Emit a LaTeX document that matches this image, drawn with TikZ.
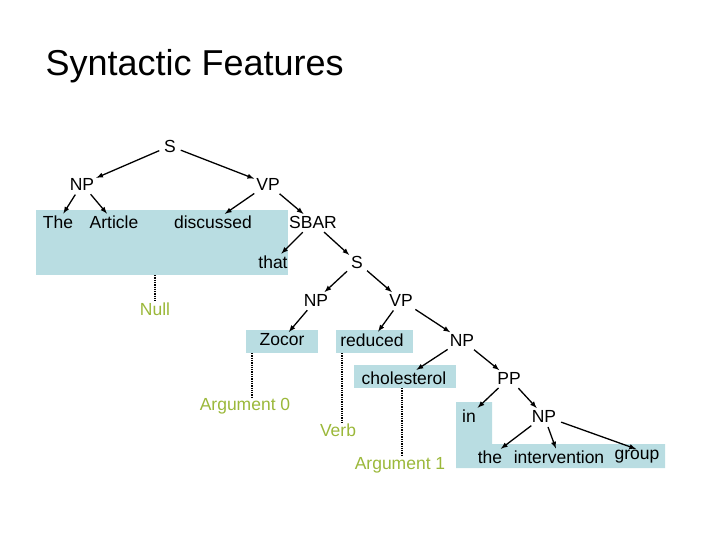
\documentclass[tikz,border=0pt]{standalone}
\usepackage{fontspec}
\setmainfont{Liberation Sans}
\begin{document}
\begin{tikzpicture}[x=1pt,y=-1pt,
  w/.style={inner sep=1pt,font=\fontsize{17.5}{20}\selectfont},
  g/.style={w,text=argc},
  ar/.style={-latex,line width=1.3pt,shorten <=4pt,shorten >=1pt},
  dl/.style={densely dotted,line width=1.3pt},
  sh/.style={fill=boxc,draw=none}]
\definecolor{boxc}{HTML}{B9DDE2}
\definecolor{argc}{HTML}{9BB83A}
\useasboundingbox (0,0) rectangle (720,540);
\fill[boxc] (36,210) rectangle (288,275);
\fill[boxc] (246,330) rectangle (318,353);
\fill[boxc] (336,330) rectangle (413,353);
\fill[boxc] (354,365) rectangle (456,388);
\fill[boxc] (456,402) -- (492,402) -- (492,444) -- (665,444) -- (665,468) -- (456,468) -- cycle;
\node[anchor=west,font=\fontsize{36}{40}\selectfont] (title) at (42,66) {Syntactic Features};
\node[w] (S) at (170,146) {S};
\node[w] (NP) at (82,184) {NP};
\node[w] (VP) at (268,184) {VP};
\node[w] (The) at (58,222) {The};
\node[w] (Art) at (114,222) {Article};
\node[w] (disc) at (213,222) {discussed};
\node[w] (SBAR) at (313,222) {SBAR};
\node[w] (that) at (273,262) {that};
\node[w] (S2) at (357,262) {S};
\node[g] (Null) at (155,309) {Null};
\node[w] (NP2) at (316,300) {NP};
\node[w] (VP2) at (401,300) {VP};
\node[w] (Zocor) at (282,340) {Zocor};
\node[w] (red) at (372,340) {reduced};
\node[w] (NP3) at (462,340) {NP};
\node[w] (chol) at (404,378) {cholesterol};
\node[w] (PP) at (509,378) {PP};
\node[g] (A0) at (245,406) {Argument 0};
\node[w] (in) at (469,416) {in};
\node[w] (NP4) at (544,416) {NP};
\node[g] (Verb) at (338,430) {Verb};
\node[g] (A1) at (400,465) {Argument 1};
\node[w] (the) at (490,457) {the};
\node[w] (int) at (559,457) {intervention};
\node[w] (grp) at (637,457) {group};
\draw[ar] (S) -- (NP);
\draw[ar] (S) -- (VP);
\draw[ar] (NP) -- (The);
\draw[ar] (NP) -- (Art);
\draw[ar] (VP) -- (disc);
\draw[ar] (VP) -- (SBAR);
\draw[ar] (SBAR) -- (that);
\draw[ar] (SBAR) -- (S2);
\draw[ar] (S2) -- (NP2);
\draw[ar] (S2) -- (VP2);
\draw[ar] (NP2) -- (Zocor);
\draw[ar] (VP2) -- (red);
\draw[ar] (VP2) -- (NP3);
\draw[ar] (NP3) -- (chol);
\draw[ar] (NP3) -- (PP);
\draw[ar] (PP) -- (in);
\draw[ar] (PP) -- (NP4);
\draw[ar] (NP4) -- (the);
\draw[ar] (NP4) -- (int);
\draw[ar] (NP4) -- (grp.north);
\coordinate (d0) at (155,275);
\coordinate (d1) at (252,353);
\coordinate (d2) at (342,353);
\coordinate (d3) at (402,388);
\draw[dl] (d0) -- (Null.north -| d0);
\draw[dl] (d1) -- (A0.north -| d1);
\draw[dl] (d2) -- (Verb.north -| d2);
\draw[dl] (d3) -- (A1.north -| d3);
\end{tikzpicture}
\end{document}
